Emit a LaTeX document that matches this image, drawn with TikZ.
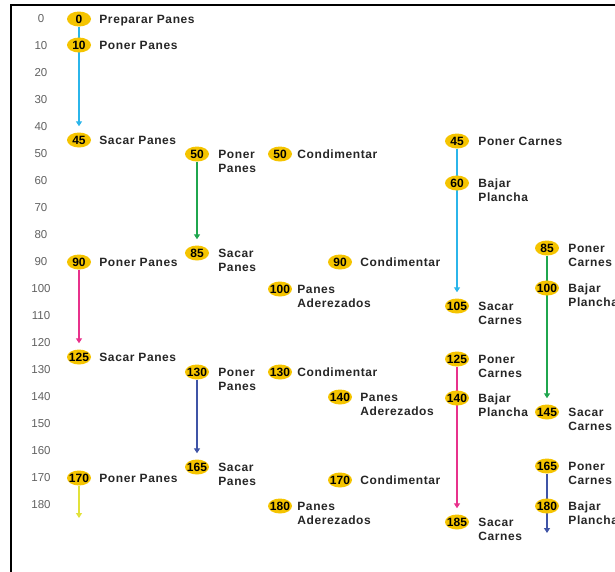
\documentclass[tikz,border=0pt]{standalone}
\usepackage{fontspec}
\setmainfont{Liberation Sans}
\newfontfamily\taskfont[LetterSpace=5.0]{Liberation Sans}
\usetikzlibrary{arrows.meta,shapes.geometric,backgrounds}
\definecolor{SlotGold}{HTML}{F5C400}
\definecolor{FlowCyan}{HTML}{2BB5EA}
\definecolor{FlowGreen}{HTML}{1FA64E}
\definecolor{FlowPink}{HTML}{E8318C}
\definecolor{FlowBlue}{HTML}{3F54A6}
\definecolor{FlowYellow}{HTML}{E2E23A}

\begin{document}
\begin{tikzpicture}[x=1pt,y=-1pt,
      every node/.style={inner sep=0pt},
      timelbl/.style={font=\fontsize{11.5}{12}\selectfont,text=black!62},
      slot/.style={ellipse,fill=SlotGold,inner xsep=-2pt,inner ysep=0pt,
        minimum width=24pt,minimum height=15pt,font=\bfseries\fontsize{12}{12}\selectfont},
      task/.style={anchor=north west,align=left,text=black!85,
        font=\taskfont\bfseries\fontsize{12}{14}\selectfont},
      flow/.style={-{Triangle[width=6pt,length=5pt]},line width=1.8pt,shorten >=6pt}]
      \useasboundingbox (0,0) rectangle (615,571);
      \draw[line width=2pt] (616,5) -- (11,5) -- (11,572);
      \foreach \t in {0,10,...,180}
        \node[timelbl] (s\t) at (41,{19+2.7*\t}) {\t};
      \node[slot] (a0) at (79,19) {0};
      \node[slot] (a10) at (79,45) {10};
      \node[slot] (a45) at (79,140) {45};
      \node[slot] (a90) at (79,262) {90};
      \node[slot] (a125) at (79,357) {125};
      \node[slot] (a170) at (79,478) {170};
      \node[slot] (b50) at (197,154) {50};
      \node[slot] (b85) at (197,253) {85};
      \node[slot] (b130) at (197,372) {130};
      \node[slot] (b165) at (197,467) {165};
      \node[slot] (c50) at (280,154) {50};
      \node[slot] (c100) at (280,289) {100};
      \node[slot] (c130) at (280,372) {130};
      \node[slot] (c180) at (280,506) {180};
      \node[slot] (d90) at (340,262) {90};
      \node[slot] (d140) at (340,397) {140};
      \node[slot] (d170) at (340,480) {170};
      \node[slot] (e45) at (457,141) {45};
      \node[slot] (e60) at (457,183) {60};
      \node[slot] (e105) at (457,306) {105};
      \node[slot] (e125) at (457,359) {125};
      \node[slot] (e140) at (457,398) {140};
      \node[slot] (e185) at (457,522) {185};
      \node[slot] (f85) at (547,248) {85};
      \node[slot] (f100) at (547,288) {100};
      \node[slot] (f145) at (547,412) {145};
      \node[slot] (f165) at (547,466) {165};
      \node[slot] (f180) at (547,506) {180};
      \node[task] (a0t) at ([xshift=8pt,yshift=4.3pt]a0.east) {Preparar Panes};
      \node[task] (a10t) at ([xshift=8pt,yshift=4.3pt]a10.east) {Poner Panes};
      \node[task] (a45t) at ([xshift=8pt,yshift=4.3pt]a45.east) {Sacar Panes};
      \node[task] (a90t) at ([xshift=8pt,yshift=4.3pt]a90.east) {Poner Panes};
      \node[task] (a125t) at ([xshift=8pt,yshift=4.3pt]a125.east) {Sacar Panes};
      \node[task] (a170t) at ([xshift=8pt,yshift=4.3pt]a170.east) {Poner Panes};
      \node[task] (b50t) at ([xshift=9pt,yshift=4.3pt]b50.east) {Poner\\Panes};
      \node[task] (b85t) at ([xshift=9pt,yshift=4.3pt]b85.east) {Sacar\\Panes};
      \node[task] (b130t) at ([xshift=9pt,yshift=4.3pt]b130.east) {Poner\\Panes};
      \node[task] (b165t) at ([xshift=9pt,yshift=4.3pt]b165.east) {Sacar\\Panes};
      \node[task] (c50t) at ([xshift=5pt,yshift=4.3pt]c50.east) {Condimentar};
      \node[task] (c100t) at ([xshift=5pt,yshift=4.3pt]c100.east) {Panes\\Aderezados};
      \node[task] (c130t) at ([xshift=5pt,yshift=4.3pt]c130.east) {Condimentar};
      \node[task] (c180t) at ([xshift=5pt,yshift=4.3pt]c180.east) {Panes\\Aderezados};
      \node[task] (d90t) at ([xshift=8pt,yshift=4.3pt]d90.east) {Condimentar};
      \node[task] (d140t) at ([xshift=8pt,yshift=4.3pt]d140.east) {Panes\\Aderezados};
      \node[task] (d170t) at ([xshift=8pt,yshift=4.3pt]d170.east) {Condimentar};
      \node[task] (e45t) at ([xshift=9pt,yshift=4.3pt]e45.east) {Poner Carnes};
      \node[task] (e60t) at ([xshift=9pt,yshift=4.3pt]e60.east) {Bajar\\Plancha};
      \node[task] (e105t) at ([xshift=9pt,yshift=4.3pt]e105.east) {Sacar\\Carnes};
      \node[task] (e125t) at ([xshift=9pt,yshift=4.3pt]e125.east) {Poner\\Carnes};
      \node[task] (e140t) at ([xshift=9pt,yshift=4.3pt]e140.east) {Bajar\\Plancha};
      \node[task] (e185t) at ([xshift=9pt,yshift=4.3pt]e185.east) {Sacar\\Carnes};
      \node[task] (f85t) at ([xshift=9pt,yshift=4.3pt]f85.east) {Poner\\Carnes};
      \node[task] (f100t) at ([xshift=9pt,yshift=4.3pt]f100.east) {Bajar\\Plancha};
      \node[task] (f145t) at ([xshift=9pt,yshift=4.3pt]f145.east) {Sacar\\Carnes};
      \node[task] (f165t) at ([xshift=9pt,yshift=4.3pt]f165.east) {Poner\\Carnes};
      \node[task] (f180t) at ([xshift=9pt,yshift=4.3pt]f180.east) {Bajar\\Plancha};
      \coordinate (aend) at (79,518);
      \coordinate (fend) at (547,533);
      \begin{scope}[on background layer]
        \draw[flow,draw=FlowCyan] (a0) -- (a45);
        \draw[flow,draw=FlowCyan] (e45) -- (e105);
        \draw[flow,draw=FlowGreen] (b50) -- (b85);
        \draw[flow,draw=FlowGreen] (f85) -- (f145);
        \draw[flow,draw=FlowPink] (a90) -- (a125);
        \draw[flow,draw=FlowPink] (e125) -- (e185);
        \draw[flow,draw=FlowBlue] (b130) -- (b165);
        \draw[flow,draw=FlowBlue,shorten >=0pt] (f165) -- (fend);
        \draw[flow,draw=FlowYellow,shorten >=0pt] (a170) -- (aend);
      \end{scope}
    \end{tikzpicture}
\end{document}
